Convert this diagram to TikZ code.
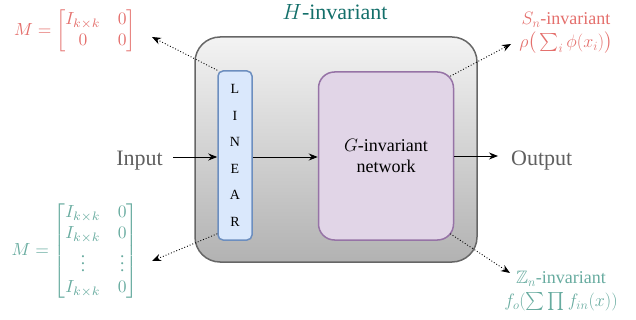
\RequirePackage{fix-cm}
\documentclass[tikz,border=0pt]{standalone}
\usepackage{amsmath,amssymb}
\usepackage{fontspec}
\setmainfont{Liberation Serif}
\usetikzlibrary{arrows.meta,calc}
\definecolor{redt}{HTML}{E46F6C}
\definecolor{tealt}{HTML}{67AB9F}
\definecolor{htl}{HTML}{136F6A}
\definecolor{grayt}{HTML}{5F5F5F}
\definecolor{topg}{HTML}{F3F3F3}
\definecolor{botg}{HTML}{B2B2B2}
\definecolor{outerline}{HTML}{666666}
\definecolor{linfill}{HTML}{DAE8FC}
\definecolor{linline}{HTML}{6C8EBF}
\definecolor{gfill}{HTML}{E1D5E7}
\definecolor{gline}{HTML}{9673A6}
\begin{document}
\begin{tikzpicture}[x=1pt,y=-1pt,
  outerbox/.style={draw=outerline, line width=1.5pt, rounded corners=25pt, top color=topg, bottom color=botg, minimum width=282pt, minimum height=225pt, inner sep=0pt},
  linbox/.style={draw=linline, line width=1.5pt, rounded corners=5pt, fill=linfill, minimum width=34pt, minimum height=169pt, inner sep=0pt, align=center, font=\fontsize{14}{26.6}\selectfont},
  gbox/.style={draw=gline, line width=1.5pt, rounded corners=16pt, fill=gfill, minimum width=135pt, minimum height=168pt, inner sep=0pt, align=center, font=\fontsize{18}{21}\selectfont},
  iolabel/.style={text=grayt, font=\fontsize{22}{26}\selectfont, inner sep=0pt},
  arr/.style={-{Stealth[length=9pt,width=7pt]}, line width=0.9pt, black},
  dotarr/.style={-{Stealth[length=9pt,width=7pt]}, line width=0.9pt, black, dotted},
  mlabel/.style={font=\normalsize, inner sep=0pt},
  rlabel/.style={font=\fontsize{18}{23}\selectfont, inner sep=0pt, align=center}
]
\useasboundingbox (0,0) rectangle (636,320);

\node[outerbox] (outer) at (336,149.5) {};
\node[text=htl, font=\fontsize{22}{26}\selectfont, inner sep=0pt] (htitle) at (335,12) {$H$-invariant};

\node[linbox] (lin) at (235,155.5) {L\\I\\N\\E\\A\\R};
\node[gbox] (g) at (386,156) {$G$-invariant\\network};

\node[iolabel, anchor=base east] (input) at (163,166) {Input};
\node[iolabel, anchor=base west] (output) at (511,166) {Output};

\coordinate (inA) at (173,157);
\coordinate (outA) at (498,156);
\draw[arr] (inA) -- (inA -| lin.west);
\draw[arr] (lin.east |- 0,157) -- (g.west |- 0,157);
\draw[arr] (g.east |- outA) -- (outA);

% matrices
\node[mlabel, text=redt] (mtop) at (75,31) {\scalebox{1.75}{$M=\begin{bmatrix} I_{k\times k} & 0\\ 0 & 0\end{bmatrix}$}};
\node[mlabel, text=tealt] (mbot) at (75,251) {\scalebox{1.75}{$M=\begin{bmatrix} I_{k\times k} & 0\\ I_{k\times k} & 0\\ \vdots & \vdots\\ I_{k\times k} & 0\end{bmatrix}$}};

% right labels
\node[rlabel, text=redt] (sn) at (566,33) {$S_n$-invariant\\$\rho\big(\sum_i \phi(x_i)\big)$};
\node[rlabel, text=tealt] (zn) at (561,291) {$\mathbb{Z}_n$-invariant\\$f_o(\sum\prod f_{in}(x))$};

\coordinate (tlEnd) at (152,37);
\coordinate (blEnd) at (152,261);
\coordinate (trEnd) at (511,44);
\coordinate (brEnd) at (510,273);

\draw[dotarr] (lin.north west) -- (tlEnd);
\draw[dotarr] ([yshift=7pt]lin.south west) -- (blEnd);
\draw[dotarr] ([xshift=-4pt,yshift=-5pt]g.north east) -- (trEnd);
\draw[dotarr] ([xshift=-4pt,yshift=7pt]g.south east) -- (brEnd);
\end{tikzpicture}
\end{document}
